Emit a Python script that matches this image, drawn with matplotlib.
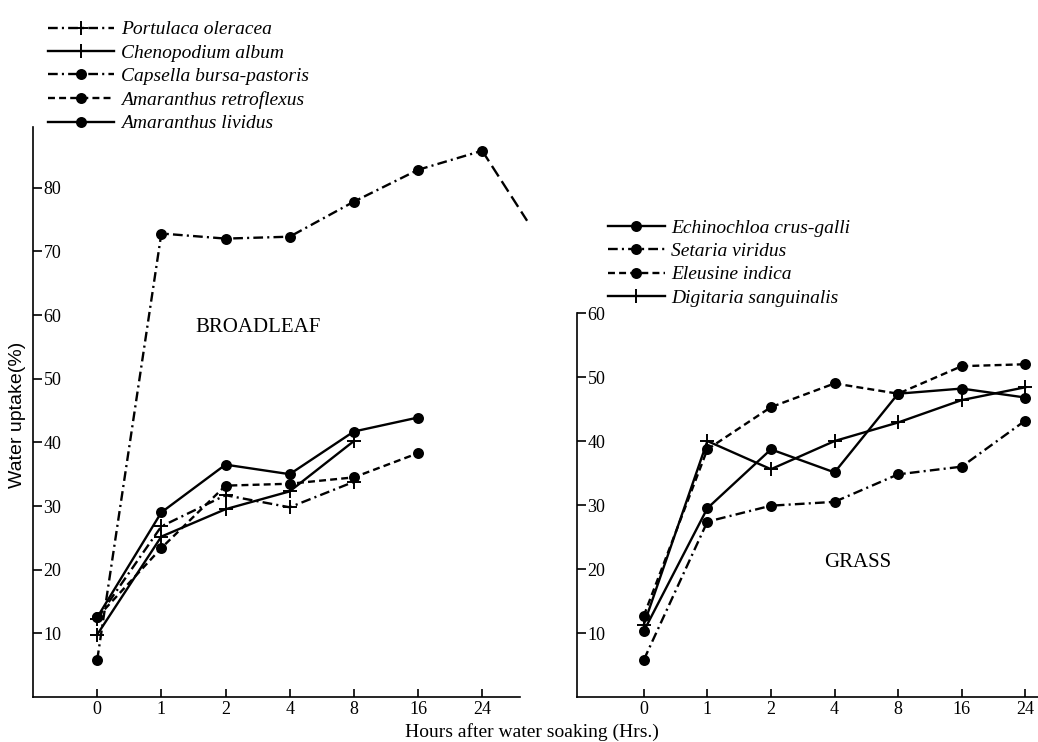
import numpy as np
import matplotlib
matplotlib.use("Agg")
import matplotlib.pyplot as plt

plt.rcParams['font.family'] = 'Liberation Serif'
plt.rcParams['lines.scale_dashes'] = False

# hours after soaking (categorical, equally spaced on the axis)
hour_labels = ['0', '1', '2', '4', '8', '16', '24']
pos = np.arange(len(hour_labels))

# BROADLEAF (water uptake %)
portulaca = [12.3, 26.8, 31.7, 29.8, 33.8]
chenopodium = [9.8, 25.2, 29.5, 32.3, 40.2]
capsella = [5.8, 72.8, 72.0, 72.3, 77.8, 82.8, 85.8]
retroflexus = [12.5, 23.4, 33.2, 33.5, 34.5, 38.3]
lividus = [12.5, 29.0, 36.5, 35.0, 41.7, 43.9]
# capsella line keeps dropping past 24 h and leaves the frame
capsella_tail_pos = [6, 6.7]
capsella_tail = [85.8, 74.8]

# GRASS
echinochloa = [10.3, 29.5, 38.7, 35.1, 47.4, 48.2, 46.8]
setaria = [5.8, 27.4, 29.9, 30.5, 34.8, 36.0, 43.2]
eleusine = [12.7, 38.7, 45.3, 49.0, 47.4, 51.7, 52.0]
digitaria = [11.3, 40.0, 35.6, 40.0, 42.9, 46.4, 48.4]

DASHDOT = (0, (7, 3, 1.5, 3))
DASHED = (0, (5, 3))
lw = 1.7
ms_dot = 6.5
ms_plus = 9.5

fig = plt.figure(figsize=(10.38, 7.42), dpi=100)
ax1 = fig.add_axes([0.0318, 0.0606, 0.4692, 0.768])
ax2 = fig.add_axes([0.5559, 0.0606, 0.4441, 0.5175])

def line(ax, vals, ls, marker, label=None):
    ms = ms_plus if marker == '+' else ms_dot
    h, = ax.plot(pos[:len(vals)], vals, color='k', lw=lw, ls=ls, marker=marker,
                 ms=ms, mew=1.4, label=label, clip_on=False)
    return h

h1 = [line(ax1, portulaca, DASHDOT, '+', 'Portulaca oleracea'),
      line(ax1, chenopodium, '-', '+', 'Chenopodium album'),
      line(ax1, capsella, DASHDOT, 'o', 'Capsella bursa-pastoris'),
      line(ax1, retroflexus, DASHED, 'o', 'Amaranthus retroflexus'),
      line(ax1, lividus, '-', 'o', 'Amaranthus lividus')]
ax1.plot(capsella_tail_pos, capsella_tail, color='k', lw=lw, ls=(0, (9, 4)), clip_on=False)

h2 = [line(ax2, echinochloa, '-', 'o', 'Echinochloa crus-galli'),
      line(ax2, setaria, DASHDOT, 'o', 'Setaria viridus'),
      line(ax2, eleusine, DASHED, 'o', 'Eleusine indica'),
      line(ax2, digitaria, '-', '+', 'Digitaria sanguinalis')]

ax1.set_xlim(-1.0, 6.59)
ax1.set_ylim(0, 89.5)
ax1.set_yticks([10, 20, 30, 40, 50, 60, 70, 80])
ax2.set_xlim(-1.05, 6.2)
ax2.set_ylim(0, 60)
ax2.set_yticks([10, 20, 30, 40, 50, 60])

for ax in (ax1, ax2):
    ax.set_xticks(pos)
    ax.set_xticklabels(hour_labels)
    ax.spines['top'].set_visible(False)
    ax.spines['right'].set_visible(False)
    ax.spines['left'].set_linewidth(1.2)
    ax.spines['bottom'].set_linewidth(1.2)
    ax.tick_params(axis='x', direction='in', length=6, width=1.2, pad=3, labelsize=13)
    ax.tick_params(axis='y', direction='in', length=6.5, width=1.2, pad=-7.5, labelsize=13)
    for lab in ax.get_yticklabels():
        lab.set_horizontalalignment('left')
    ax.patch.set_alpha(0)

ax1.text(2.5, 58, 'BROADLEAF', fontsize=15, ha='center', va='center')
ax2.text(3.37, 21.1, 'GRASS', fontsize=15, ha='center', va='center')

leg_kw = dict(frameon=False, loc='upper left', borderaxespad=0, borderpad=0,
              handletextpad=0.35, labelspacing=0.3, numpoints=1,
              prop={'family': 'Liberation Serif', 'style': 'italic', 'size': 14})
fig.legend(handles=h1, bbox_to_anchor=(0.046, 0.972), handlelength=3.4, **leg_kw)
fig.legend(handles=h2, bbox_to_anchor=(0.586, 0.705), handlelength=2.9, **leg_kw)

fig.text(0.512, 0.014, 'Hours after water soaking (Hrs.)', fontsize=14,
         ha='center', va='center')
fig.text(0.0173, 0.441, 'Water uptake(%)', fontsize=14, family='Liberation Sans',
         rotation=90, ha='center', va='center')

fig.savefig('out.png', dpi=100)
